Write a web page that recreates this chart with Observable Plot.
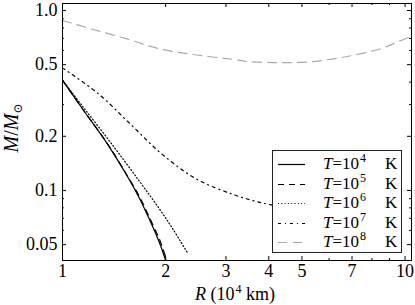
<!DOCTYPE html>
<html><head><meta charset="utf-8">
<script src="https://cdn.jsdelivr.net/npm/d3@7"></script>
<script src="https://cdn.jsdelivr.net/npm/@observablehq/plot@0.6"></script>
<style>
body{margin:0;background:#fff;}
#wrap{position:relative;width:415px;height:305px;font-family:"Liberation Serif","DejaVu Serif","Noto Serif","Tinos","Nimbus Roman","FreeSerif","Times New Roman",Times,serif;color:#000;}
.legend{position:absolute;left:272px;top:150px;width:130px;height:103px;box-sizing:border-box;border:1px solid #222;background:#fff;}
.row{position:absolute;left:0;height:20px;width:100%;}
.row svg{position:absolute;left:5px;top:0;}
.row .lab{position:absolute;left:50px;top:0;font-size:17px;line-height:20px;white-space:nowrap;}
.row .k{position:absolute;left:112px;top:0;font-size:17px;line-height:20px;}
.sup{font-size:12px;position:relative;top:-7px;margin-left:1px;}
.xl{position:absolute;left:235px;top:294px;transform:translate(-50%,-50%);font-size:18px;white-space:nowrap;}
.yl{position:absolute;left:11px;top:128px;transform:translate(-50%,-50%) rotate(-90deg);font-size:20px;white-space:nowrap;}
.sub{font-size:12px;position:relative;top:4px;}
svg text{font-family:"Liberation Serif","DejaVu Serif","Noto Serif","Tinos","Nimbus Roman","FreeSerif","Times New Roman",Times,serif;}
</style></head>
<body><div id="wrap"></div>
<script>
// tick values and labels
const xMajor = [1, 2, 3, 4, 5, 7, 10];
const xTickLabels = ["1", "2", "3", "4", "5", "7", "10"];
const xMinor = [6, 8, 9];
const yMajor = [0.05, 0.1, 0.2, 0.5, 1.0];
const yTickLabels = ["0.05", "0.1", "0.2", "0.5", "1.0"];
const yMinor = [0.06, 0.07, 0.08, 0.09, 0.3, 0.4, 0.6, 0.7, 0.8, 0.9];

// series: radius R (1e4 km) and mass M/Msun
const seriesNames = ["T=10^4 K", "T=10^5 K", "T=10^6 K", "T=10^7 K", "T=10^8 K"];
const r_T4 = [1, 1.15, 1.35, 1.57, 1.68, 1.80, 1.92, 2.0, 2.04];
const m_T4 = [0.41, 0.28, 0.182, 0.114, 0.09, 0.068, 0.051, 0.041, 0.037];
const r_T5 = [1, 1.15, 1.35, 1.57, 1.685, 1.805, 1.93, 2.015, 2.06];
const m_T5 = [0.41, 0.28, 0.183, 0.115, 0.091, 0.069, 0.052, 0.041, 0.037];
const r_T6 = [1, 1.15, 1.39, 1.68, 1.9, 2.1, 2.32];
const m_T6 = [0.41, 0.29, 0.182, 0.112, 0.081, 0.061, 0.0448];
const r_T7 = [1, 1.274, 1.574, 1.945, 2.456, 3.21, 3.88, 4.4];
const m_T7 = [0.48, 0.344, 0.235, 0.160, 0.116, 0.0938, 0.0847, 0.081];
const r_T8 = [1, 1.232, 1.54, 1.923, 2.40, 3.21, 3.47, 4.10, 4.68, 5.41, 5.91, 6.47, 6.99, 7.76, 8.54, 9.48, 10.44];
const m_T8 = [0.88, 0.784, 0.696, 0.612, 0.570, 0.532, 0.520, 0.514, 0.514, 0.520, 0.532, 0.546, 0.562, 0.587, 0.615, 0.668, 0.72];

const toRows = (rs, ms) => rs.map((r, i) => ({r, m: ms[i]}));
const styles = [
  {stroke: "#000", strokeDasharray: null},
  {stroke: "#000", strokeDasharray: "6,5"},
  {stroke: "#000", strokeDasharray: "1,2.3"},
  {stroke: "#000", strokeDasharray: "3,4,1,4"},
  {stroke: "#aaa", strokeDasharray: "9,6"}
];
const data = [toRows(r_T4, m_T4), toRows(r_T5, m_T5), toRows(r_T6, m_T6), toRows(r_T7, m_T7), toRows(r_T8, m_T8)];

const W = 415, H = 305, mL = 62, mR = 4, mT = 3, mB = 45;
const fw = W - mL - mR, fh = H - mT - mB;
const FONT = "'Liberation Serif', 'DejaVu Serif', 'Noto Serif', Tinos, 'Nimbus Roman', FreeSerif, 'Times New Roman', Times, serif";

const lineMarks = data.map((d, i) => Plot.line(d, {
  x: "r", y: "m", curve: "catmull-rom", clip: true,
  stroke: styles[i].stroke, strokeWidth: 1.2,
  strokeDasharray: styles[i].strokeDasharray
}));

const chart = Plot.plot({
  width: W, height: H,
  marginLeft: mL, marginRight: mR, marginTop: mT, marginBottom: mB,
  style: {fontFamily: FONT, fontSize: "18px", color: "#000", background: "#fff"},
  x: {type: "log", domain: [1, 10.44], axis: null},
  y: {type: "log", domain: [0.0408, 1.094], axis: null},
  marks: [
    ...lineMarks,
    // inward ticks
    Plot.tickX(xMajor, {x: d => d, stroke: "#000", insetTop: fh - 4}),
    Plot.tickX(xMajor, {x: d => d, stroke: "#000", insetBottom: fh - 4}),
    Plot.tickX(xMinor, {x: d => d, stroke: "#000", insetTop: fh - 2}),
    Plot.tickX(xMinor, {x: d => d, stroke: "#000", insetBottom: fh - 2}),
    Plot.tickY(yMajor, {y: d => d, stroke: "#000", insetRight: fw - 4}),
    Plot.tickY(yMajor, {y: d => d, stroke: "#000", insetLeft: fw - 4}),
    Plot.tickY(yMinor, {y: d => d, stroke: "#000", insetRight: fw - 2}),
    Plot.tickY(yMinor, {y: d => d, stroke: "#000", insetLeft: fw - 2}),
    // tick labels
    Plot.text(xMajor, {x: d => d, frameAnchor: "bottom", lineAnchor: "top", dy: 4,
      text: (d, i) => xTickLabels[i], fontFamily: FONT, fontSize: 18, fill: "#000"}),
    Plot.text(yMajor, {y: d => d, frameAnchor: "left", textAnchor: "end", dx: -5,
      text: (d, i) => yTickLabels[i], fontFamily: FONT, fontSize: 18, fill: "#000"}),
    Plot.frame({stroke: "#000", strokeWidth: 1})
  ]
});

const wrap = document.getElementById("wrap");
wrap.appendChild(chart);

// axis titles
const xl = document.createElement("div");
xl.className = "xl";
xl.innerHTML = '<i>R</i> (10<span class="sup">4</span> km)';
wrap.appendChild(xl);
const yl = document.createElement("div");
yl.className = "yl";
yl.innerHTML = '<i>M</i>/<i>M</i><span class="sub">⊙</span>';
wrap.appendChild(yl);

// legend
const exps = ["4", "5", "6", "7", "8"];
const leg = document.createElement("div");
leg.className = "legend";
exps.forEach((e, i) => {
  const row = document.createElement("div");
  row.className = "row";
  row.style.top = (3 + i * 19.5) + "px";
  const s = styles[i];
  row.innerHTML = `<svg width="28" height="20"><line x1="0" x2="27" y1="10.5" y2="10.5" stroke="${s.stroke}" stroke-width="1.2" ${s.strokeDasharray ? `stroke-dasharray="${s.strokeDasharray}"` : ""}/></svg>` +
    `<span class="lab"><i>T</i>=10<span class="sup">${e}</span></span><span class="k">K</span>`;
  leg.appendChild(row);
});
wrap.appendChild(leg);
</script></body></html>
